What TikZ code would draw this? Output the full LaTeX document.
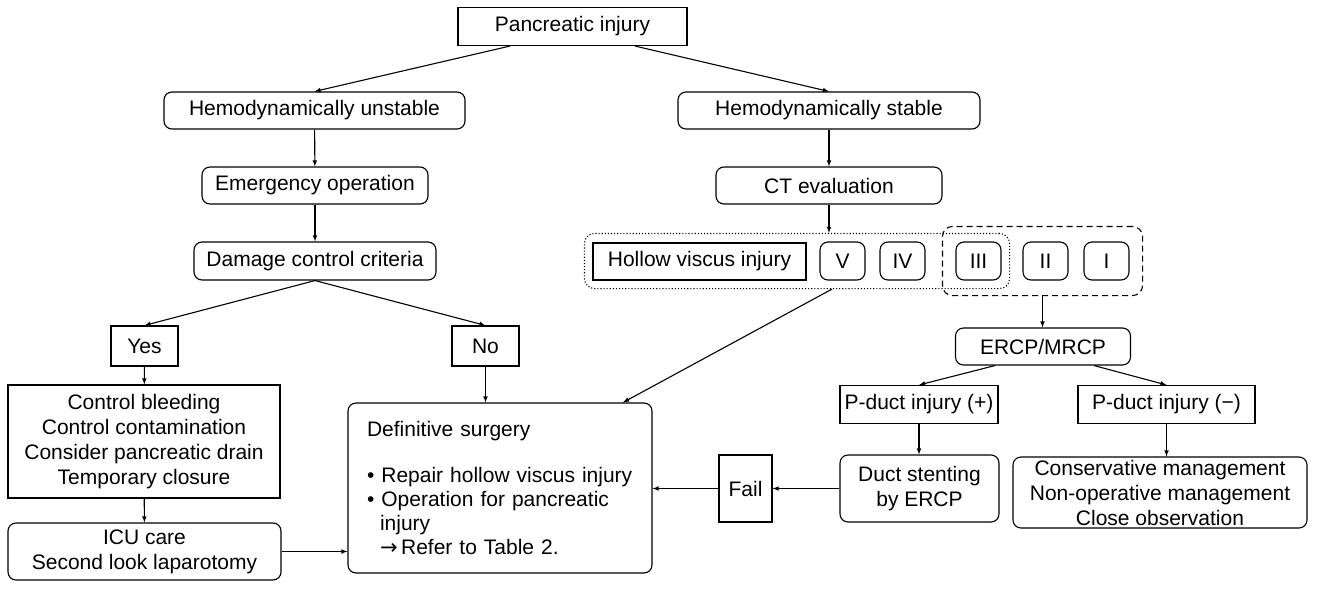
\documentclass[tikz,border=0pt]{standalone}
\usepackage{fontspec}
\setmainfont{Liberation Sans}
\newfontfamily\arrowfont{DejaVu Sans}
\usetikzlibrary{arrows,fit}

\begin{document}
\begin{tikzpicture}[x=1pt,
            y=-1pt,
            >=latex,
            line width=1.1pt,
            font=\fontsize{21}{25}\selectfont,
            box/.style={draw, rectangle, inner sep=0pt, align=center},
            rbox/.style={box, rounded corners=8pt},
            grp/.style={draw, rectangle, rounded corners=10pt}]

        \useasboundingbox (0,0) rectangle (1320,592);

        \node[box,  minimum width=229pt, minimum height=38pt]  (pi)   at (572.5,26.5) {Pancreatic injury};
        \node[rbox, minimum width=301pt, minimum height=37pt]  (hu)   at (314.5,110.5) {Hemodynamically unstable};
        \node[rbox, minimum width=302pt, minimum height=37pt]  (hs)   at (829,110.5)   {Hemodynamically stable};
        \node[rbox, minimum width=226pt, minimum height=37pt]  (eo)   at (315,185.5)   {Emergency operation};
        \node[rbox, minimum width=226pt, minimum height=37pt]  (ct)   at (829,185.5)   {CT evaluation};
        \node[rbox, minimum width=242pt, minimum height=38pt]  (dc)   at (315,261)     {Damage control criteria};

        \node[box,  minimum width=213pt, minimum height=37pt]  (hv)   at (699.5,261.5) {Hollow viscus injury};
        \node[rbox, minimum width=45pt,  minimum height=38pt]  (g5)   at (842.5,261)   {V};
        \node[rbox, minimum width=45pt,  minimum height=38pt]  (g4)   at (902.5,261)   {IV};
        \node[rbox, minimum width=45pt,  minimum height=38pt]  (g3)   at (978.5,261)   {III};
        \node[rbox, minimum width=45pt,  minimum height=38pt]  (g2)   at (1045.5,261)  {II};
        \node[rbox, minimum width=45pt,  minimum height=38pt]  (g1)   at (1106.5,261)  {I};
        \node[grp, dotted, inner xsep=8pt, inner ysep=8pt, fit=(hv) (g5) (g4) (g3)] (lowgrp) {};
        \node[grp, dash pattern=on 6pt off 4pt, inner xsep=13pt, inner ysep=15pt, fit=(g3) (g2) (g1)] (higrp) {};

        \node[box,  minimum width=67pt,  minimum height=40pt]  (yes)  at (144.5,346)   {Yes};
        \node[box,  minimum width=67pt,  minimum height=40pt]  (no)   at (485.5,346)   {No};
        \node[rbox, minimum width=175pt, minimum height=37pt]  (ercp) at (1043,346.5)  {ERCP/MRCP};
        \node[box,  minimum width=158pt, minimum height=38pt]  (pp)   at (919,404.5)   {P-duct injury (+)};
        \node[box,  minimum width=177pt, minimum height=38pt]  (pm)   at (1166.5,404.5) {P-duct injury (−)};

        \node[box,  minimum width=272pt, minimum height=113pt] (cb)   at (144,441.5)
            {Control bleeding\\Control contamination\\Consider pancreatic drain\\Temporary closure};
        \node[rbox, minimum width=273pt, minimum height=57pt]  (icu)  at (144.5,551.5)
            {ICU care\\Second look laparotomy};
        \node[rbox, minimum width=304pt, minimum height=170pt, text width=266pt, inner xsep=19pt,
              align=left, font=\fontsize{21}{24}\selectfont] (ds) at (500,488)
            {Definitive surgery\\[22pt]
             \textbullet\ Repair hollow viscus injury\\
             \textbullet\ Operation for pancreatic\\
             \hspace*{13pt}injury\\
             \hspace*{13pt}{\arrowfont →}\,Refer to Table 2.};
        \node[box,  minimum width=53pt,  minimum height=67pt]  (fail) at (745.5,488.5) {Fail};
        \node[rbox, minimum width=159pt, minimum height=67pt]  (st)   at (919.5,488.5)
            {Duct stenting\\by ERCP};
        \node[rbox, minimum width=294pt, minimum height=71pt]  (cm)   at (1160,492.5)
            {Conservative management\\Non-operative management\\Close observation};

        \path[->] ([xshift=-62.5pt]pi.south) edge (hu.north)
                  ([xshift=62.5pt]pi.south)  edge (hs.north)
                  (hu)                       edge (eo)
                  (eo)                       edge (dc)
                  (dc.south)                 edge (yes.north)
                  (dc.south)                 edge (no.north)
                  (yes)                      edge (cb)
                  (cb)                       edge (icu)
                  (icu)                      edge (icu -| ds.west)
                  (no)                       edge (no |- ds.north)
                  (hs)                       edge (ct)
                  (ct)                       edge (ct |- lowgrp.north)
                  ([xshift=35pt]lowgrp.south) edge ([xshift=123pt]ds.north)
                  (higrp.south)              edge (higrp.south |- ercp.north)
                  ([xshift=-48pt]ercp.south) edge (pp.north)
                  ([xshift=51pt]ercp.south)  edge (pm.north)
                  (pp)                       edge (pp |- st.north)
                  (pm)                       edge (pm |- cm.north)
                  (st)                       edge (fail)
                  (fail)                     edge (fail -| ds.east);

    \end{tikzpicture}
\end{document}
